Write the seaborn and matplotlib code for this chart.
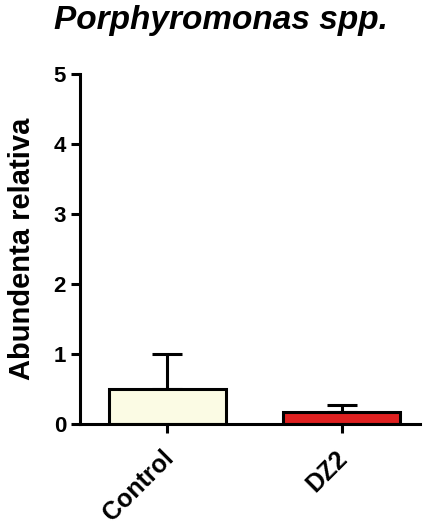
import matplotlib
matplotlib.use("Agg")
import matplotlib.pyplot as plt
import matplotlib.transforms as mtransforms
import seaborn as sns
import pandas as pd

categories = ["Control", "DZ2"]
values = [0.50, 0.17]
errors = [0.50, 0.10]
colors = ["#FFFFE0", "#FF0000"]
yticks = [0, 1, 2, 3, 4, 5]

sns.set_style("ticks", {"text.color": "black", "axes.labelcolor": "black",
                        "xtick.color": "black", "ytick.color": "black",
                        "axes.edgecolor": "black"})
plt.rcParams['font.family'] = ['Liberation Sans', 'DejaVu Sans']

fig = plt.figure(figsize=(4.23, 5.26), dpi=100)
ax = fig.add_axes([80/423, (526-424)/526, (420-80)/423, (424-74)/526])

df = pd.DataFrame({"group": categories, "value": values})
sns.barplot(data=df, x="group", y="value", hue="group", palette=colors,
            width=0.67, edgecolor="black", linewidth=2.2, errorbar=None,
            legend=False, ax=ax, zorder=2)
ax.errorbar(range(len(categories)), values, yerr=[[0]*len(errors), errors],
            fmt="none", ecolor="black", elinewidth=2.2, capsize=10.8,
            capthick=2.2, zorder=1)

ax.set_ylim(0, 5)
ax.set_xlim(-0.5, 1.45)
ax.set_yticks(yticks)
ax.set_yticklabels([str(t) for t in yticks], fontsize=16, fontweight="bold")
ax.set_xticks(range(len(categories)))
ax.set_xticklabels(categories, fontsize=18, fontweight="bold", rotation=45,
                   ha="right", va="top", rotation_mode="anchor")
ax.set_xlabel("")
ax.set_ylabel("Abundenta relativa", fontsize=21, fontweight="bold")
ax.yaxis.set_label_coords(-0.13, 0.5)
fig.text(221/423, 1 - 29/526, "Porphyromonas spp.", fontsize=24,
         fontweight="bold", fontstyle="italic", ha="center", va="baseline")

for s in ["top", "right"]:
    ax.spines[s].set_visible(False)
for s in ["left", "bottom"]:
    ax.spines[s].set_linewidth(2.2)
ax.tick_params(axis="both", width=2.2, length=6.5, direction="out", pad=3.5)

offset = mtransforms.ScaledTranslation(-6/100, -8/100, fig.dpi_scale_trans)
for lbl in ax.get_xticklabels():
    lbl.set_transform(lbl.get_transform() + offset)

fig.savefig("out.png", dpi=100)
